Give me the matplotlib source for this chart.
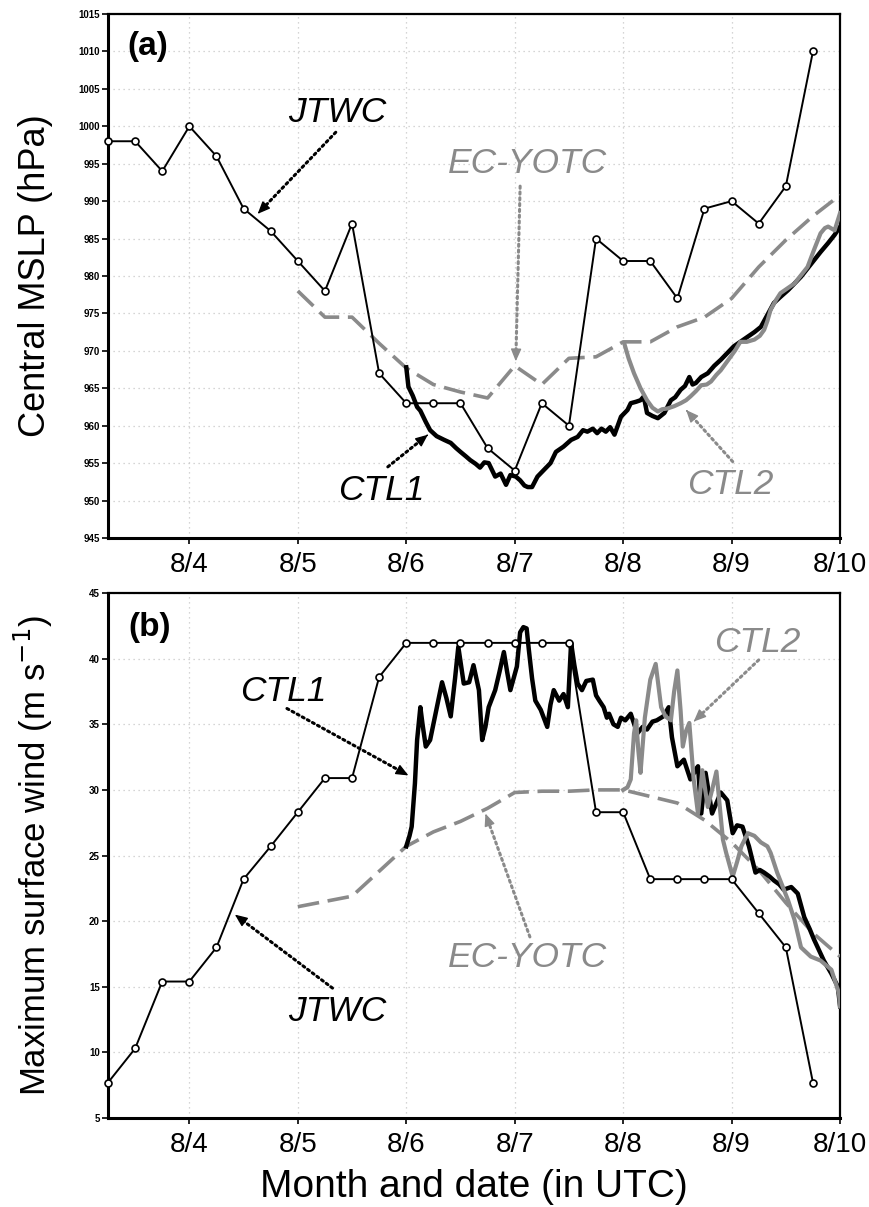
import matplotlib
matplotlib.use("Agg")
import matplotlib.pyplot as plt

plt.rcParams['font.family'] = ['Liberation Sans', 'DejaVu Sans']

GRAY = '#8a8a8a'

# ---------------- data ----------------
# JTWC best track, 6-hourly from 8/3 06UTC (day units, 3.25 = 8/3 06 UTC)
jtwc_t = [3.25, 3.5, 3.75, 4.0, 4.25, 4.5, 4.75, 5.0, 5.25, 5.5, 5.75, 6.0, 6.25, 6.5,
          6.75, 7.0, 7.25, 7.5, 7.75, 8.0, 8.25, 8.5, 8.75, 9.0, 9.25, 9.5, 9.75]
jtwc_p = [998, 998, 994, 1000, 996, 989, 986, 982, 978, 987, 967, 963, 963, 963,
          957, 954, 963, 960, 985, 982, 982, 977, 989, 990, 987, 992, 1010]
jtwc_w = [7.7, 10.3, 15.4, 15.4, 18.0, 23.2, 25.7, 28.3, 30.9, 30.9, 38.6, 41.2, 41.2, 41.2,
          41.2, 41.2, 41.2, 41.2, 28.3, 28.3, 23.2, 23.2, 23.2, 23.2, 20.6, 18.0, 7.7]

# EC-YOTC analysis, 6-hourly from 8/5 00UTC
ec_t = [5.0, 5.25, 5.5, 5.75, 6.0, 6.25, 6.5, 6.75, 7.0, 7.25, 7.5, 7.75, 8.0, 8.25,
        8.5, 8.75, 9.0, 9.25, 9.5, 9.75, 10.0]
ec_p = [978, 974.5, 974.5, 971, 967.7, 965.5, 964.5, 963.7, 968, 965.5, 969, 969.2, 971.2, 971.2,
        973.2, 974.5, 977, 981.2, 984.8, 988, 990.8]
ec_w = [21.1, 21.5, 21.9, 23.8, 25.7, 26.8, 27.6, 28.6, 29.8, 29.9, 29.9, 30.0, 30.0, 29.5,
        29.0, 27.7, 26.0, 23.9, 21.4, 19.1, 17.3]

# CTL1 simulation
ctl1_p_t = [6.00, 6.02, 6.06, 6.10, 6.13, 6.18, 6.22, 6.28, 6.35, 6.41, 6.46, 6.50, 6.55, 6.59,
            6.64, 6.68, 6.72, 6.76, 6.80, 6.82, 6.87, 6.92, 6.96, 7.01, 7.05, 7.09, 7.12, 7.16,
            7.21, 7.27, 7.33, 7.38, 7.45, 7.52, 7.58, 7.63, 7.67, 7.72, 7.76, 7.80, 7.84, 7.88,
            7.92, 7.98, 8.04, 8.07, 8.12, 8.16, 8.19, 8.22, 8.27, 8.32, 8.38, 8.44, 8.48, 8.53,
            8.57, 8.61, 8.64, 8.67, 8.72, 8.78, 8.84, 8.90, 8.96, 9.02, 9.08, 9.15, 9.21, 9.27,
            9.33, 9.39, 9.45, 9.52, 9.58, 9.64, 9.70, 9.76, 9.82, 9.89, 9.95, 10.00]
ctl1_p = [967.8, 965.2, 964.0, 962.5, 962.0, 960.5, 959.4, 958.6, 958.1, 957.7, 957.0, 956.5, 955.9, 955.4,
          954.9, 954.4, 955.1, 955.0, 953.8, 953.2, 953.6, 952.1, 953.4, 953.2, 952.7, 952.0, 951.8, 951.8,
          953.2, 954.1, 955.0, 956.5, 957.2, 958.1, 958.5, 959.4, 959.2, 959.6, 959.0, 959.6, 959.2, 959.8,
          958.8, 961.2, 962.1, 963.0, 963.2, 963.4, 963.9, 961.7, 961.3, 961.0, 961.7, 963.4, 963.8, 964.8,
          965.3, 966.5, 965.5, 965.7, 966.5, 967.0, 968.0, 968.8, 969.7, 970.6, 971.2, 971.9, 972.5, 973.2,
          974.8, 976.4, 977.2, 978.1, 979.0, 979.9, 981.0, 982.1, 983.2, 984.4, 985.5, 986.6]
ctl1_w_t = [6.00, 6.03, 6.05, 6.08, 6.10, 6.13, 6.15, 6.18, 6.22, 6.27, 6.33, 6.37, 6.41, 6.45,
            6.48, 6.53, 6.58, 6.62, 6.67, 6.70, 6.73, 6.76, 6.82, 6.86, 6.90, 6.93, 6.96, 7.02,
            7.05, 7.08, 7.11, 7.13, 7.16, 7.19, 7.24, 7.30, 7.33, 7.36, 7.41, 7.45, 7.49, 7.52,
            7.55, 7.58, 7.62, 7.66, 7.72, 7.75, 7.78, 7.82, 7.85, 7.87, 7.91, 7.95, 7.98, 8.02,
            8.07, 8.13, 8.18, 8.22, 8.27, 8.31, 8.37, 8.42, 8.45, 8.50, 8.56, 8.62, 8.66, 8.69,
            8.72, 8.76, 8.82, 8.86, 8.90, 8.96, 9.01, 9.05, 9.10, 9.16, 9.22, 9.26, 9.30, 9.35,
            9.39, 9.44, 9.48, 9.55, 9.61, 9.67, 9.72, 9.76, 9.85, 9.92, 9.98, 10.00]
ctl1_w = [25.7, 26.5, 27.2, 30.5, 33.8, 36.3, 35.0, 33.3, 33.8, 35.8, 38.2, 37.0, 35.6, 38.5,
          40.9, 38.1, 38.2, 39.5, 37.6, 33.8, 34.8, 36.3, 37.6, 39.0, 40.5, 39.0, 37.6, 39.4,
          42.0, 42.4, 42.3, 40.7, 38.5, 36.8, 36.1, 34.8, 36.5, 37.6, 36.8, 37.3, 36.3, 41.2,
          39.5, 38.1, 37.6, 38.3, 38.4, 37.2, 36.8, 36.3, 35.5, 35.8, 35.0, 34.8, 35.5, 35.3,
          35.8, 34.3, 34.8, 34.6, 35.2, 35.3, 35.6, 36.3, 34.0, 31.8, 32.3, 30.8, 31.4, 31.8,
          28.2, 31.3, 28.2, 29.0, 29.8, 29.2, 26.7, 27.3, 27.2, 25.7, 23.7, 23.9, 23.7, 23.4,
          23.1, 22.8, 22.4, 22.6, 22.1, 20.3, 19.4, 18.6, 17.0, 16.0, 15.0, 13.5]

# CTL2 simulation
ctl2_p_t = [8.01, 8.05, 8.10, 8.16, 8.22, 8.27, 8.32, 8.36, 8.41, 8.47, 8.53, 8.58, 8.62, 8.67,
            8.72, 8.77, 8.81, 8.86, 8.90, 8.94, 8.99, 9.03, 9.08, 9.14, 9.21, 9.26, 9.30, 9.33,
            9.36, 9.41, 9.45, 9.52, 9.58, 9.64, 9.70, 9.76, 9.82, 9.86, 9.89, 9.95, 10.00]
ctl2_p = [971.0, 969.0, 967.0, 965.0, 963.4, 962.4, 961.9, 962.2, 962.3, 962.6, 963.0, 963.4, 963.9, 964.6,
          965.4, 965.5, 965.9, 966.8, 967.4, 968.2, 969.2, 970.0, 971.2, 971.2, 971.5, 972.0, 972.8, 974.0,
          975.5, 976.8, 977.7, 978.4, 979.0, 980.1, 981.2, 983.5, 985.7, 986.4, 986.6, 986.1, 988.4]
ctl2_w_t = [8.00, 8.04, 8.07, 8.10, 8.12, 8.14, 8.16, 8.20, 8.25, 8.30, 8.35, 8.39, 8.44, 8.47,
            8.50, 8.53, 8.55, 8.58, 8.61, 8.65, 8.69, 8.73, 8.78, 8.82, 8.86, 8.92, 8.95, 9.01,
            9.05, 9.09, 9.15, 9.21, 9.27, 9.33, 9.36, 9.42, 9.52, 9.58, 9.64, 9.73, 9.82, 9.92,
            9.99, 10.00]
ctl2_w = [30.0, 30.2, 30.8, 34.3, 35.3, 33.0, 31.3, 35.5, 38.4, 39.6, 36.3, 35.6, 35.3, 37.5,
          39.1, 36.0, 33.3, 34.5, 35.1, 30.8, 28.2, 31.5, 28.7, 30.0, 31.4, 26.2, 25.2, 23.4,
          24.5, 25.7, 26.7, 26.5, 26.0, 25.7, 25.2, 23.7, 21.6, 20.1, 18.0, 17.3, 17.0, 16.3,
          14.5, 13.5]

day_ticks = [4, 5, 6, 7, 8, 9, 10]
day_labels = ['8/4', '8/5', '8/6', '8/7', '8/8', '8/9', '8/10']
p_ticks = list(range(945, 1016, 5))
w_ticks = list(range(5, 46, 5))

# ---------------- figure ----------------
fig = plt.figure(figsize=(8.69, 12.07), dpi=100)
ax1 = fig.add_axes([0.1243, 0.5543, 0.8424, 0.4341])
ax2 = fig.add_axes([0.1243, 0.0737, 0.8424, 0.4350])


def style(ax, yticks, ylim):
    ax.set_xlim(3.25, 10)
    ax.set_ylim(*ylim)
    ax.set_xticks(day_ticks)
    ax.set_xticklabels(day_labels, fontsize=20)
    ax.set_yticks(yticks)
    ax.set_yticklabels([str(v) for v in yticks], fontsize=7, fontweight='bold')
    ax.grid(True, color='#c8c8c8', linestyle=(0, (1, 3)), linewidth=0.9)
    ax.set_axisbelow(True)
    for s in ax.spines.values():
        s.set_linewidth(1.6)
        s.set_color('black')
    ax.spines['left'].set_linewidth(2.2)
    ax.spines['bottom'].set_linewidth(2.2)
    ax.tick_params(axis='both', direction='out', length=4, width=1.2)
    ax.tick_params(axis='x', pad=6)
    ax.tick_params(axis='y', pad=2)


def pointer(ax, start, end, color):
    # dotted shaft
    ax.annotate('', xy=end, xytext=start,
                arrowprops=dict(arrowstyle='-', color=color, lw=2.2,
                                linestyle=(0, (0.7, 1.2)), shrinkA=0, shrinkB=6))
    # solid filled head
    fx = end[0] + (start[0] - end[0]) * 0.02
    fy = end[1] + (start[1] - end[1]) * 0.02
    ax.annotate('', xy=end, xytext=(fx, fy),
                arrowprops=dict(arrowstyle='-|>,head_length=0.75,head_width=0.32',
                                color=color, lw=1.0, shrinkA=0, shrinkB=0))


dash = (0, (6, 2.4))
TFS = 25.5

# ---- panel (a) ----
style(ax1, p_ticks, (945, 1015))
ax1.plot(ec_t, ec_p, color=GRAY, lw=2.6, linestyle=dash, zorder=3)
ax1.plot(ctl1_p_t, ctl1_p, color='black', lw=3.2, zorder=4, solid_joinstyle='round')
ax1.plot(ctl2_p_t, ctl2_p, color=GRAY, lw=3.0, zorder=5, solid_joinstyle='round')
ax1.plot(jtwc_t, jtwc_p, color='black', lw=1.4, marker='o', markersize=5, mfc='white',
         mec='black', mew=1.2, zorder=6, clip_on=False)
ax1.set_ylabel('Central MSLP (hPa)', fontsize=26)
ax1.yaxis.set_label_coords(-0.075, 0.5)

ax1.text(3.62, 1010.6, '(a)', fontsize=24, fontweight='bold', ha='center', va='center')
ax1.text(5.36, 1001.9, 'JTWC', fontsize=TFS, style='italic', ha='center', va='center')
pointer(ax1, (5.35, 999.2), (4.63, 988.3), 'black')
ax1.text(7.12, 995.0, 'EC-YOTC', fontsize=TFS, style='italic', color=GRAY, ha='center', va='center')
pointer(ax1, (7.05, 992.0), (7.01, 968.6), GRAY)
ax1.text(5.77, 951.3, 'CTL1', fontsize=TFS, style='italic', ha='center', va='center')
pointer(ax1, (5.83, 954.5), (6.20, 958.8), 'black')
ax1.text(8.99, 952.1, 'CTL2', fontsize=TFS, style='italic', color=GRAY, ha='center', va='center')
pointer(ax1, (9.01, 955.2), (8.58, 962.1), GRAY)

# ---- panel (b) ----
style(ax2, w_ticks, (5, 45))
ax2.plot(ec_t, ec_w, color=GRAY, lw=2.6, linestyle=dash, zorder=3)
ax2.plot(ctl1_w_t, ctl1_w, color='black', lw=3.2, zorder=4, solid_joinstyle='round')
ax2.plot(ctl2_w_t, ctl2_w, color=GRAY, lw=3.0, zorder=5, solid_joinstyle='round')
ax2.plot(jtwc_t, jtwc_w, color='black', lw=1.4, marker='o', markersize=5, mfc='white',
         mec='black', mew=1.2, zorder=6, clip_on=False)
ax2.set_ylabel('Maximum surface wind (m s$^{-1}$)', fontsize=25)
ax2.yaxis.set_label_coords(-0.073, 0.5)
ax2.set_xlabel('Month and date (in UTC)', fontsize=28, labelpad=8)

ax2.text(3.63, 42.4, '(b)', fontsize=24, fontweight='bold', ha='center', va='center')
ax2.text(4.87, 37.5, 'CTL1', fontsize=TFS, style='italic', ha='center', va='center')
pointer(ax2, (4.90, 36.2), (6.02, 31.1), 'black')
ax2.text(9.24, 41.2, 'CTL2', fontsize=TFS, style='italic', color=GRAY, ha='center', va='center')
pointer(ax2, (9.25, 39.9), (8.65, 35.2), GRAY)
ax2.text(7.12, 17.2, 'EC-YOTC', fontsize=TFS, style='italic', color=GRAY, ha='center', va='center')
pointer(ax2, (7.14, 18.8), (6.73, 28.2), GRAY)
ax2.text(5.36, 13.1, 'JTWC', fontsize=TFS, style='italic', ha='center', va='center')
pointer(ax2, (5.32, 14.9), (4.42, 20.5), 'black')

fig.savefig('out.png', dpi=100)
